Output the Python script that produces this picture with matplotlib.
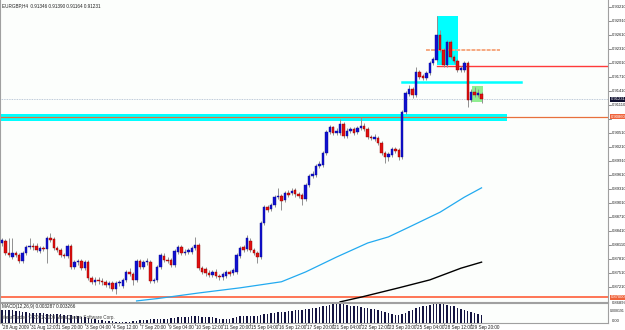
import numpy as np
import matplotlib
matplotlib.use('Agg')
import matplotlib.pyplot as plt
from matplotlib.transforms import blended_transform_factory

plt.rcParams['font.family'] = ['Liberation Sans Narrow', 'Liberation Sans', 'DejaVu Sans']

symbol = 'EURGBP,H4'
last_ohlc = [0.91346, 0.91390, 0.91164, 0.91231]

# H4 candles, prices in 1/10000
opens = [
    8816, 8820, 8795, 8786, 8795, 8790, 8777, 8795, 8807, 8809,
    8810, 8799, 8805, 8803, 8827, 8824, 8805, 8801, 8790, 8788,
    8810, 8765, 8775, 8777, 8762, 8775, 8741, 8733, 8737, 8735,
    8733, 8726, 8730, 8718, 8730, 8724, 8737, 8754, 8750, 8737,
    8777, 8765, 8775, 8775, 8735, 8737, 8765, 8788, 8780, 8780,
    8769, 8797, 8807, 8795, 8797, 8797, 8805, 8812, 8762, 8760,
    8752, 8748, 8754, 8745, 8743, 8745, 8754, 8752, 8754, 8788,
    8807, 8803, 8820, 8801, 8795, 8786, 8859, 8893, 8889, 8897,
    8914, 8917, 8908, 8923, 8923, 8929, 8921, 8919, 8910, 8940,
    8959, 8962, 8981, 8983, 9009, 9054, 9064, 9051, 9051, 9071,
    9045, 9056, 9060, 9053, 9062, 9066, 9060, 9043, 9039, 9041,
    9030, 9009, 9000, 9004, 9017, 9015, 9000, 9096, 9135, 9146,
    9133, 9182, 9173, 9169, 9180, 9201, 9208, 9261, 9229, 9197,
    9246, 9214, 9205, 9186, 9186, 9201, 9122, 9139, 9133, 9134.6]
highs = [
    8827, 8824, 8827, 8827, 8799, 8795, 8799, 8812, 8827, 8816,
    8816, 8810, 8810, 8831, 8838, 8829, 8810, 8805, 8795, 8814,
    8814, 8780, 8782, 8782, 8780, 8780, 8745, 8743, 8743, 8741,
    8737, 8735, 8735, 8735, 8737, 8741, 8758, 8762, 8754, 8782,
    8782, 8780, 8784, 8780, 8741, 8769, 8795, 8795, 8786, 8784,
    8803, 8812, 8812, 8803, 8805, 8810, 8829, 8816, 8767, 8765,
    8758, 8758, 8760, 8750, 8754, 8758, 8758, 8762, 8795, 8810,
    8812, 8833, 8827, 8805, 8799, 8863, 8897, 8897, 8902, 8919,
    8934, 8921, 8927, 8929, 8934, 8934, 8925, 8923, 8944, 8964,
    8970, 8985, 8991, 9013, 9058, 9069, 9066, 9062, 9081, 9075,
    9062, 9064, 9064, 9066, 9086, 9073, 9064, 9047, 9049, 9045,
    9034, 9013, 9011, 9021, 9021, 9019, 9101, 9141, 9154, 9150,
    9193, 9186, 9178, 9184, 9205, 9214, 9302, 9272, 9233, 9250,
    9250, 9218, 9210, 9195, 9205, 9205, 9146, 9150, 9146, 9139.0]
lows = [
    8810, 8790, 8786, 8782, 8786, 8773, 8773, 8790, 8803, 8801,
    8797, 8795, 8799, 8773, 8818, 8801, 8797, 8786, 8784, 8784,
    8760, 8760, 8769, 8758, 8758, 8737, 8728, 8726, 8728, 8726,
    8722, 8720, 8713, 8707, 8724, 8720, 8733, 8745, 8726, 8733,
    8760, 8760, 8769, 8730, 8730, 8733, 8760, 8775, 8773, 8765,
    8765, 8792, 8790, 8790, 8792, 8792, 8801, 8758, 8750, 8745,
    8743, 8743, 8741, 8737, 8737, 8741, 8745, 8748, 8750, 8784,
    8797, 8799, 8797, 8790, 8773, 8782, 8855, 8882, 8884, 8893,
    8910, 8887, 8904, 8914, 8919, 8914, 8912, 8897, 8906, 8936,
    8955, 8957, 8976, 8978, 9004, 9049, 9047, 9047, 9047, 9041,
    9041, 9051, 9047, 9049, 9058, 9056, 9039, 9036, 9034, 9026,
    9004, 8987, 8991, 9000, 9009, 8994, 8996, 9092, 9130, 9126,
    9128, 9167, 9165, 9165, 9176, 9197, 9203, 9225, 9193, 9193,
    9210, 9201, 9182, 9182, 9182, 9107, 9118, 9128, 9128, 9116.4]
closes = [
    8822, 8795, 8791, 8795, 8790, 8777, 8795, 8807, 8809, 8807,
    8801, 8805, 8803, 8827, 8822, 8805, 8801, 8790, 8788, 8810,
    8765, 8775, 8777, 8762, 8775, 8741, 8733, 8737, 8735, 8733,
    8726, 8730, 8718, 8730, 8733, 8737, 8754, 8750, 8737, 8777,
    8765, 8775, 8777, 8735, 8737, 8765, 8790, 8780, 8777, 8769,
    8799, 8807, 8795, 8797, 8801, 8805, 8812, 8762, 8754, 8752,
    8748, 8754, 8745, 8743, 8750, 8754, 8750, 8758, 8790, 8805,
    8801, 8827, 8801, 8795, 8786, 8859, 8893, 8887, 8897, 8914,
    8917, 8906, 8923, 8919, 8927, 8921, 8917, 8910, 8940, 8959,
    8964, 8981, 8985, 9009, 9054, 9064, 9051, 9056, 9071, 9045,
    9056, 9060, 9051, 9062, 9066, 9060, 9043, 9041, 9043, 9030,
    9009, 9000, 9006, 9017, 9013, 9000, 9096, 9137, 9146, 9133,
    9182, 9171, 9169, 9180, 9201, 9210, 9261, 9229, 9197, 9246,
    9214, 9205, 9186, 9190, 9201, 9122, 9139, 9133, 9137, 9123.1]

# moving averages, sampled at bar index (1/10000)
ma_fast_bar = [39, 45, 57, 69, 81, 88, 97, 106, 112, 118, 127, 134, 139]
ma_fast_val = [8692, 8697, 8709, 8720, 8733, 8754, 8786, 8816, 8829, 8850, 8882, 8914, 8934]
ma_slow_bar = [98, 104, 115, 124, 133, 139]
ma_slow_val = [8690, 8700, 8720, 8737, 8762, 8775]

# MACD histogram (1/10000)
macd = [
    56, 56, 54, 54, 52, 52, 47, 47, 45, 45,
    42, 42, 42, 40, 40, 38, 38, 38, 35, 35,
    33, 31, 28, 26, 24, 21, 19, 16, 14, 12,
    9, 9, 7, 6, 5, 5, 5, 6, 7, 9,
    12, 14, 14, 16, 16, 16, 19, 19, 19, 21,
    21, 24, 24, 26, 26, 28, 28, 28, 26, 26,
    24, 24, 21, 19, 16, 16, 19, 21, 26, 28,
    31, 31, 31, 28, 28, 33, 38, 40, 42, 45,
    47, 47, 49, 52, 52, 54, 56, 56, 59, 61,
    63, 66, 68, 71, 75, 78, 80, 80, 80, 80,
    78, 75, 73, 71, 68, 66, 63, 61, 59, 56,
    52, 47, 42, 38, 35, 33, 38, 45, 52, 56,
    63, 68, 73, 75, 78, 80, 82, 80, 80, 78,
    75, 71, 66, 61, 56, 52, 47, 42, 38, 33]
macd_label = 'MACD(12,26,9) 0.003287 0.003266'
macd_top = '0.008191'
macd_bottom = '0.00'

# drawn objects
band_low, band_high, band_line = 0.9077, 0.9092, 0.9086
cyan_level = 0.9161
red_level = 0.9195
salmon_level = 0.9229
box_cyan = [126, 132.2, 0.9197, 0.9302]
box_green = [136.2, 139.4, 0.9118, 0.9152]
low_level = 0.8700

price_ticks = [0.93210, 0.92910, 0.92610, 0.92310, 0.92010, 0.91710, 0.91410,
               0.91110, 0.90810, 0.90510, 0.90210, 0.89910, 0.89610, 0.89310,
               0.89010, 0.88710, 0.88410, 0.88110, 0.87810, 0.87510, 0.87210]
time_labels = ['28 Aug 2009', '31 Aug 12:00', '1 Sep 20:00', '3 Sep 04:00', '4 Sep 12:00',
               '7 Sep 20:00', '9 Sep 04:00', '10 Sep 12:00', '11 Sep 20:00', '15 Sep 04:00',
               '16 Sep 12:00', '17 Sep 20:00', '21 Sep 04:00', '22 Sep 12:00', '23 Sep 20:00',
               '25 Sep 04:00', '28 Sep 12:00', '29 Sep 20:00']

o = np.array(opens) / 10000
h = np.array(highs) / 10000
l = np.array(lows) / 10000
c = np.array(closes) / 10000
h = np.maximum(h, np.maximum(o, c))
l = np.minimum(l, np.minimum(o, c))
idx = np.arange(len(o))

W, H = 625, 330
fig = plt.figure(figsize=(W / 100, H / 100), dpi=100)
fig.patch.set_facecolor('white')
ax = fig.add_axes([0, (H - 302) / H, 608 / W, 302 / H])
mx = fig.add_axes([0, (H - 323) / H, 608 / W, 20 / H])
xlim = (-0.58, 175.65)
ax.set_xlim(*xlim)
ax.set_ylim(0.86897, 0.9336)
mx.set_xlim(*xlim)
mx.set_ylim(0, 86)
for a in (ax, mx):
    a.set_facecolor('#fcfefc')
    a.set_xticks([])
    a.set_yticks([])
    for s in a.spines.values():
        s.set_color('#a0a0a0')
        s.set_linewidth(0.8)
ax.spines['top'].set_visible(False)

# horizontal objects behind candles
ax.fill_between([-1, 146.4], band_low, band_high, color='#00ffff', lw=0, zorder=1)
ax.axhline(band_line, color='#e8703c', lw=0.9, zorder=2)
ax.axhline(last_ohlc[3], color='#a8b8cc', lw=0.6, ls=(0, (1, 1)), zorder=1)
ax.axhline(low_level, color='#ff6a48', lw=1.3, zorder=2)
ax.fill_between([box_cyan[0], box_cyan[1]], box_cyan[2], box_cyan[3], color='#00ffff', lw=0, zorder=1)
ax.fill_between([box_green[0], box_green[1]], box_green[2], box_green[3], color='#90ee90', lw=0, zorder=1)
ax.plot([116, 150.4], [cyan_level] * 2, color='#00ffff', lw=1.8, zorder=2)
ax.plot([126, 176], [red_level] * 2, color='#ff3a3a', lw=1.0, zorder=2)
ax.plot([123, 144.3], [salmon_level] * 2, color='#f6a880', lw=1.4, ls=(0, (2, 0.6)), zorder=2)

ax.plot(ma_fast_bar, np.array(ma_fast_val) / 10000, color='#22aaf0', lw=0.9, zorder=3)
ax.plot(ma_slow_bar, np.array(ma_slow_val) / 10000, color='black', lw=1.0, zorder=3)

# candles
bull = c >= o
ax.vlines(idx, l, h, color='#909090', lw=0.7, zorder=4)
body = np.maximum(np.abs(c - o), 0.00006)
ax.bar(idx[bull], body[bull], bottom=np.minimum(o, c)[bull], width=0.72,
       color='#1010d0', edgecolor='#0a0a90', lw=0.3, zorder=5)
ax.bar(idx[~bull], body[~bull], bottom=np.minimum(o, c)[~bull], width=0.72,
       color='#e01010', edgecolor='#900000', lw=0.3, zorder=5)

fs = 3.3
fs_r = 3.0
tc = '#202020'
ax.text(0.004, 0.988, symbol + '  ' + ' '.join('%.5f' % v for v in last_ohlc),
        transform=ax.transAxes, fontsize=fs, va='top', ha='left', color=tc)

# right price scale
tr = blended_transform_factory(ax.transAxes, ax.transData)
for p in price_ticks:
    ax.plot([1.0, 1.005], [p, p], transform=tr, color='#606060', lw=0.5, clip_on=False)
    if abs(p - band_line) < 0.0015:
        continue
    ax.text(1.006, p, '%.5f' % p, transform=tr, fontsize=fs_r, va='center', ha='left',
            color=tc, clip_on=False)
for val, fc in [(last_ohlc[3], '#101030'), (band_line, '#f0643c'), (low_level, '#f0643c')]:
    ax.text(1.004, val, '%.5f' % val, transform=tr, fontsize=fs_r, va='center',
            ha='left', color='white', clip_on=False, zorder=10,
            bbox=dict(fc=fc, ec='none', pad=0.4))
ax.text(1.006, -0.004, '%.5f' % 0.86897, transform=ax.transAxes, fontsize=fs_r, va='center',
        ha='left', color=tc, clip_on=False)

# MACD window
mx.bar(idx, macd, width=0.42, color='#141440', zorder=3)
mx.text(0.004, 0.95, macd_label, transform=mx.transAxes, fontsize=fs, va='top', ha='left', color=tc)
mx.text(0.004, 0.3, 'MetaTrader, \u00a9 2001-2009 MetaQuotes Software Corp.', transform=mx.transAxes,
        fontsize=fs, va='center', ha='left', color='#404040')
mx.text(1.003, 0.62, macd_top, transform=mx.transAxes, fontsize=2.5, va='center', ha='left',
        color=tc, clip_on=False)
mx.text(1.006, 0.08, macd_bottom, transform=mx.transAxes, fontsize=fs_r, va='center', ha='left',
        color=tc, clip_on=False)

# time scale
trm = blended_transform_factory(mx.transData, fig.transFigure)
for k, lab in enumerate(time_labels):
    xb = 8 * k
    mx.plot([xb, xb], [(H - 323) / H, (H - 325) / H], transform=trm, color='#606060', lw=0.5, clip_on=False)
    mx.text(xb + 0.3, (H - 327) / H, lab, transform=trm, fontsize=fs, va='center', ha='left',
            color=tc, clip_on=False)

fig.savefig('out.png', dpi=100, facecolor='white')
